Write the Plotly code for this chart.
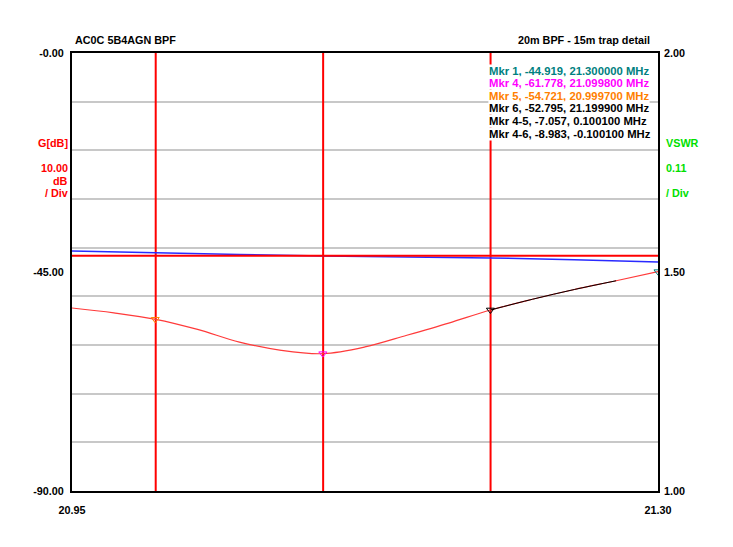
import plotly.graph_objects as go

# ---- data ----
freq = [20.95, 20.975, 21.00, 21.025, 21.05, 21.075, 21.10, 21.125, 21.15, 21.175, 21.20, 21.225, 21.25, 21.275, 21.30]
gain_db = [-52.4, -53.4, -54.72, -56.8, -59.4, -61.1, -61.78, -60.4, -58.0, -55.5, -52.80, -50.6, -48.6, -46.8, -44.92]

flat_freq = [20.95, 21.30]
flat_db = [-41.65, -41.65]

blue_freq = [20.95, 21.00, 21.05, 21.10, 21.15, 21.20, 21.25, 21.30]
blue_db = [-40.68, -41.1, -41.4, -41.7, -41.9, -42.1, -42.5, -42.95]

marker_names = ["Mkr 1", "Mkr 4", "Mkr 5", "Mkr 6"]
marker_freq = [21.300000, 21.099800, 20.999700, 21.199900]
marker_db = [-44.919, -61.778, -54.721, -52.795]
marker_colors = ["#008080", "#ff00ff", "#ff8000", "#000000"]

cursor_freqs = [21.00, 21.10, 21.20]

delta_lines = ["Mkr 4-5, -7.057, 0.100100 MHz", "Mkr 4-6, -8.983, -0.100100 MHz"]

y_ticks = [0, -45, -90]
y_ticktext = ["-0.00", "-45.00", "-90.00"]
y2_ticks = [1.0, 1.5, 2.0]
y2_ticktext = ["1.00", "1.50", "2.00"]
x_ticks = [20.95, 21.30]
x_ticktext = ["20.95", "21.30"]

FONT = "Liberation Sans"

fig = go.Figure()

# cursor lines
for f in cursor_freqs:
    fig.add_trace(go.Scatter(x=[f, f], y=[0, -90], mode="lines",
                             line=dict(color="#ff0000", width=2), hoverinfo="skip"))

fig.add_trace(go.Scatter(x=blue_freq, y=blue_db, mode="lines",
                         line=dict(color="#2a2aff", width=1.5)))
fig.add_trace(go.Scatter(x=flat_freq, y=flat_db, mode="lines",
                         line=dict(color="#ff0000", width=2)))
fig.add_trace(go.Scatter(x=freq, y=gain_db, mode="lines", line_shape="spline",
                         line=dict(color="#ff3a3a", width=1.2)))
# black segment after marker 6
seg_x = [f for f in freq if 21.2 <= f <= 21.275]
seg_y = [g for f, g in zip(freq, gain_db) if 21.2 <= f <= 21.275]
fig.add_trace(go.Scatter(x=seg_x, y=seg_y, mode="lines", line_shape="spline",
                         line=dict(color="#000000", width=1)))

fig.add_trace(go.Scatter(x=marker_freq, y=marker_db, mode="markers",
                         marker=dict(symbol="triangle-down-open", size=7,
                                     color=marker_colors, line=dict(width=1, color=marker_colors))))

# dummy for right axis
fig.add_trace(go.Scatter(x=[None], y=[None], yaxis="y2", mode="lines"))

lines = []
for n, f, g, c in zip(marker_names, marker_freq, marker_db, marker_colors):
    lines.append((f"{n}, {g:.3f}, {f:.6f} MHz", c))
for d in delta_lines:
    lines.append((d, "#000000"))

def px(xp):
    return (xp - 72) / 586

def py(yp):
    return (491 - yp) / 438

ann = []
for i, (t, c) in enumerate(lines):
    ann.append(dict(x=px(487.5), y=py(70.7 + 12.6 * i), xref="paper", yref="paper",
                    xanchor="left", yanchor="middle", text=f"<b>{t}</b>", showarrow=False,
                    align="left", bgcolor="white", borderpad=0,
                    font=dict(family=FONT, size=11.3, color=c)))
ann.append(dict(x=px(73), y=py(40), xref="paper", yref="paper", xanchor="left", yanchor="middle",
                text="<b>AC0C 5B4AGN BPF</b>", showarrow=False, font=dict(family=FONT, size=10.8, color="black")))
ann.append(dict(x=px(652), y=py(40), xref="paper", yref="paper", xanchor="right", yanchor="middle",
                text="<b>20m BPF - 15m trap detail</b>", showarrow=False, font=dict(family=FONT, size=10.8, color="black")))
for t, yy in zip(["G[dB]", "10.00", "dB", "/ Div"], [143, 168, 181, 193]):
    ann.append(dict(x=px(70), y=py(yy), xref="paper", yref="paper", xanchor="right", yanchor="middle",
                    text=f"<b>{t}</b>", showarrow=False, font=dict(family=FONT, size=10.8, color="#ff0000")))
for t, yy in zip(["VSWR", "0.11", "/ Div"], [143, 168, 193]):
    ann.append(dict(x=px(664), y=py(yy), xref="paper", yref="paper", xanchor="left", yanchor="middle",
                    text=f"<b>{t}</b>", showarrow=False, font=dict(family=FONT, size=10.8, color="#00e000")))

fig.update_layout(
    width=733, height=547,
    margin=dict(l=64, r=83, t=45, b=64),
    paper_bgcolor="white", plot_bgcolor="white",
    showlegend=False,
    font=dict(family=FONT, size=10.8, color="black"),
    annotations=ann,
    xaxis=dict(range=[20.95, 21.30], tickvals=x_ticks, ticktext=x_ticktext, showgrid=False,
               zeroline=False, showline=True, linecolor="black", linewidth=2, mirror=True,
               ticks="", ticklabelstandoff=8,
               tickfont=dict(family=FONT, size=10.8, color="black", weight="bold")),
    yaxis=dict(range=[-90, 0], tickvals=y_ticks, ticktext=y_ticktext, showgrid=False,
               zeroline=False, showline=True, linecolor="black", linewidth=2, mirror=True,
               ticks="", ticklabelstandoff=4,
               tickfont=dict(family=FONT, size=10.8, color="black", weight="bold"),
               minor=dict(dtick=10, tick0=0, showgrid=True, gridcolor="#c8c8c8", gridwidth=2)),
    yaxis2=dict(range=[1, 2], overlaying="y", side="right", tickvals=y2_ticks, ticktext=y2_ticktext,
                showgrid=False, zeroline=False, showline=False, ticks="", ticklabelstandoff=5,
                tickfont=dict(family=FONT, size=10.8, color="black", weight="bold")),
)

fig.write_html("out.html")
